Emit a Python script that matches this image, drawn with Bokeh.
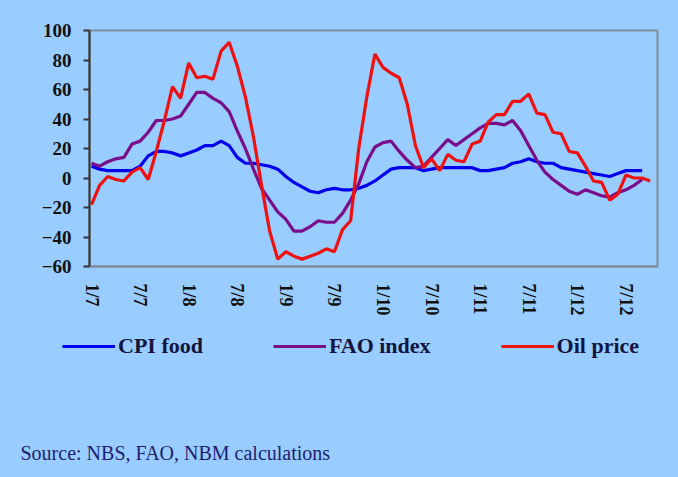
from bokeh.plotting import figure
from bokeh.layouts import column
from bokeh.models import Range1d, FixedTicker, Legend, LegendItem, Label
from bokeh.embed import file_html
from bokeh.resources import INLINE

# month index 0 = Jan 2007
tick_months = [0, 6, 12, 18, 24, 30, 36, 42, 48, 54, 60, 66]
tick_labels = ["1/7", "7/7", "1/8", "7/8", "1/9", "7/9", "1/10", "7/10", "1/11", "7/11", "1/12", "7/12"]

cpi_food = [8, 6, 5, 5, 5, 5, 8, 15, 18, 18, 17, 15, 17, 19, 22, 22, 25, 22, 14, 10,
            10, 9, 8, 6, 1, -3, -6, -9, -10, -8, -7, -8, -8, -7, -5, -2, 2, 6, 7, 7,
            7, 5, 6, 7, 7, 7, 7, 7, 5, 5, 6, 7, 10, 11, 13, 11, 10, 10, 7, 6,
            5, 4, 3, 2, 1, 3, 5, 5, 5]

fao_index = [10, 8, 11, 13, 14, 23, 25, 31, 39, 39, 40, 42, 50, 58, 58, 54, 51, 45, 32, 20,
             6, -7, -15, -23, -28, -36, -36, -33, -29, -30, -30, -24, -15, -4, 11, 21, 24, 25, 18, 12,
             7, 8, 14, 20, 26, 22, 26, 30, 34, 37, 37, 36, 39, 32, 22, 12, 4, -1, -5, -9,
             -11, -8, -10, -12, -13, -10, -8, -5, -1]

oil_price = [-18, -5, 1, -1, -2, 4, 7, -1, 18, 39, 62, 54, 78, 68, 69, 67, 86, 92, 76, 55,
             28, -5, -36, -55, -50, -53, -55, -53, -51, -48, -50, -35, -29, 20, 55, 84, 75, 71, 68, 50,
             22, 7, 13, 5, 16, 12, 11, 23, 25, 38, 43, 43, 52, 52, 57, 44, 43, 31, 30, 18,
             17, 8, -2, -3, -15, -11, 2, 0, 0, -2]

series = [cpi_food, fao_index, oil_price]
series_names = ["CPI food", "FAO index", "Oil price"]
series_colors = ["#0000EE", "#7A0D8A", "#EE1111"]
source_text = "Source: NBS, FAO, NBM calculations"

BG = "#99CCFF"
SERIF = "Liberation Serif"

# ---------------- main chart ----------------
p = figure(width=678, height=330, output_backend="svg", toolbar_location=None,
           x_range=Range1d(-0.25, 69.9), y_range=Range1d(-60, 100),
           min_border_left=89, min_border_right=21, min_border_top=30, min_border_bottom=64)
p.frame_align = False
p.background_fill_color = BG
p.border_fill_color = BG
p.outline_line_color = "#7f8c99"
p.outline_line_width = 2
p.xgrid.visible = False
p.ygrid.visible = False

for data, col in zip(series, series_colors):
    p.line(list(range(len(data))), data, line_color=col, line_width=3.2)

# y axis
p.yaxis.ticker = FixedTicker(ticks=[-60, -40, -20, 0, 20, 40, 60, 80, 100])
p.yaxis.minor_tick_line_color = None
p.yaxis.major_tick_out = 6
p.yaxis.major_tick_in = 0
p.yaxis.major_tick_line_color = "#333333"
p.yaxis.major_tick_line_width = 2
p.yaxis.axis_line_color = "#333333"
p.yaxis.axis_line_width = 2
p.yaxis.major_label_standoff = 12
p.yaxis.major_label_text_font = SERIF
p.yaxis.major_label_text_font_style = "bold"
p.yaxis.major_label_text_font_size = "19px"
p.yaxis.major_label_text_color = "#111111"

# x axis
p.xaxis.ticker = FixedTicker(ticks=tick_months)
p.xaxis.major_label_overrides = {m: s for m, s in zip(tick_months, tick_labels)}
p.xaxis.major_label_orientation = "vertical"
p.xaxis.minor_tick_line_color = None
p.xaxis.major_tick_line_color = None
p.xaxis.major_tick_out = 0
p.xaxis.axis_line_color = "#7f8c99"
p.xaxis.axis_line_width = 2
p.xaxis.major_label_standoff = 17
p.xaxis.major_label_text_font = SERIF
p.xaxis.major_label_text_font_style = "bold"
p.xaxis.major_label_text_font_size = "18px"
p.xaxis.major_label_text_color = "#111111"

# ---------------- legend + source strip ----------------
# the series are drawn again here, outside this strip's visible ranges,
# only so that the legend has renderers with data to draw its samples from
q = figure(width=678, height=147, output_backend="svg", toolbar_location=None,
           x_range=Range1d(-10, -9), y_range=Range1d(0, 1),
           x_axis_type=None, y_axis_type=None,
           min_border=0, min_border_left=0, min_border_right=0,
           min_border_top=0, min_border_bottom=0)
q.frame_align = False
q.background_fill_color = BG
q.border_fill_color = BG
q.outline_line_color = None
q.xgrid.visible = False
q.ygrid.visible = False

items = []
for data, n, col in zip(series, series_names, series_colors):
    r = q.line(list(range(len(data))), data, line_color=col, line_width=3.2)
    items.append(LegendItem(label=n, renderers=[r]))

legend = Legend(items=items, location=(62, 118), orientation="horizontal",
                padding=0, margin=0, spacing=70,
                glyph_width=53, glyph_height=24, label_standoff=3,
                label_text_font=SERIF, label_text_font_style="bold",
                label_text_font_size="22px", label_text_color="#14143c",
                background_fill_alpha=0, border_line_alpha=0)
q.add_layout(legend, "center")

src = Label(x=20, y=25, x_units="screen", y_units="screen",
            text=source_text, text_font=SERIF,
            text_font_size="20px", text_color="#1e1e6e", text_baseline="middle")
q.add_layout(src)

page = column(p, q, spacing=0, styles={"background-color": BG})
open("out.html", "w").write(file_html(page, INLINE))
